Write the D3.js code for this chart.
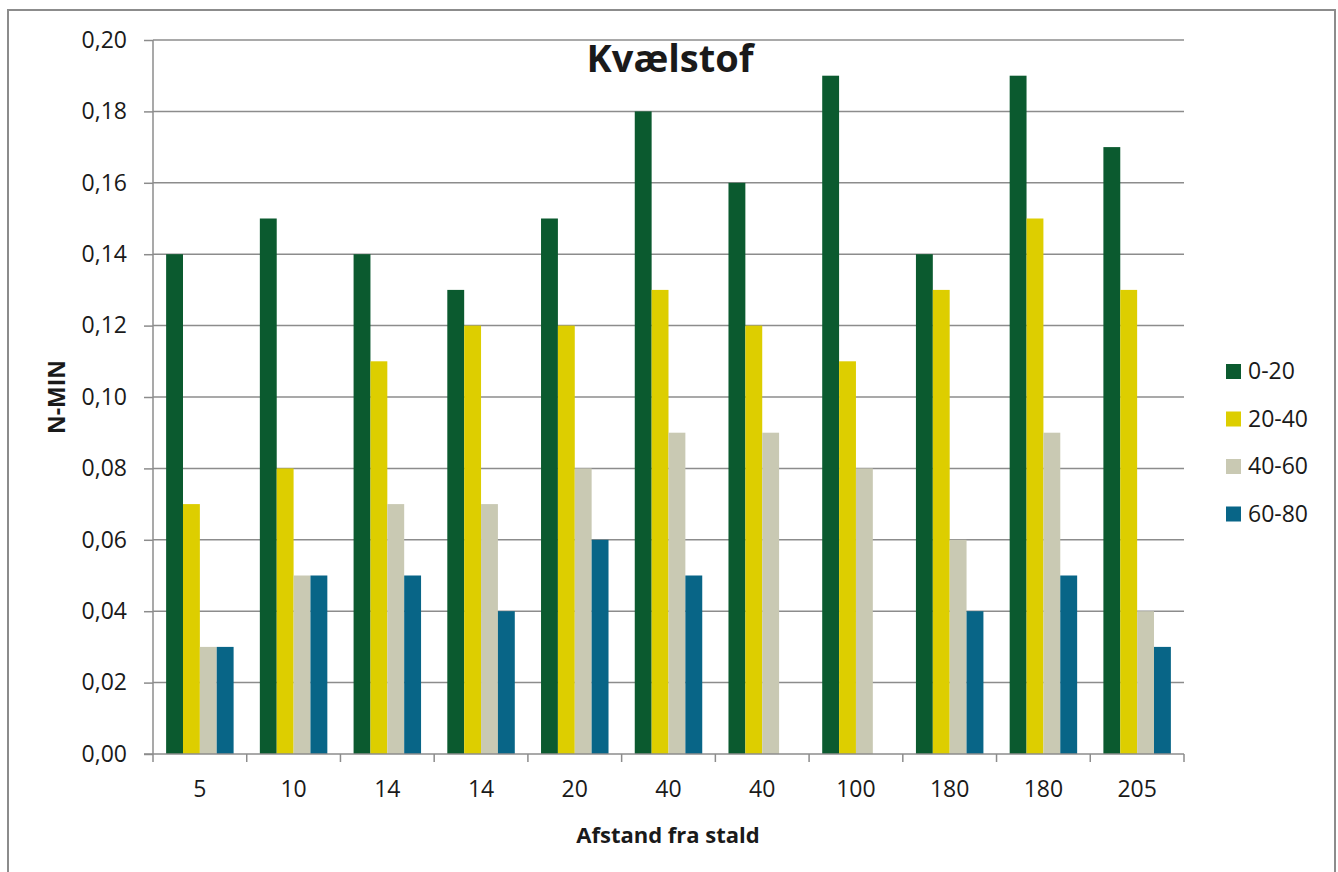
<!DOCTYPE html>
<html>
<head>
<meta charset="utf-8">
<script src="https://cdn.jsdelivr.net/npm/d3@7"></script>
<style>
  html, body { margin: 0; padding: 0; background: #fff; }
  svg { display: block; font-family: "Open Sans", Lato, sans-serif; }
</style>
</head>
<body>
<svg id="chart" width="1338" height="872"></svg>
<script>
// Distance from the stable (category labels; some repeat)
const categories = ["5", "10", "14", "14", "20", "40", "40", "100", "180", "180", "205"];
// Soil depth layers (cm)
const seriesNames = ["0-20", "20-40", "40-60", "60-80"];
// N-MIN per depth layer, one value per category (null = no measurement)
const depth0_20  = [0.14, 0.15, 0.14, 0.13, 0.15, 0.18, 0.16, 0.19, 0.14, 0.19, 0.17];
const depth20_40 = [0.07, 0.08, 0.11, 0.12, 0.12, 0.13, 0.12, 0.11, 0.13, 0.15, 0.13];
const depth40_60 = [0.03, 0.05, 0.07, 0.07, 0.08, 0.09, 0.09, 0.08, 0.06, 0.09, 0.04];
const depth60_80 = [0.03, 0.05, 0.05, 0.04, 0.06, 0.05, null, null, 0.04, 0.05, 0.03];
const yTicks = [0, 0.02, 0.04, 0.06, 0.08, 0.10, 0.12, 0.14, 0.16, 0.18, 0.20];
const colors = ["#0b5a2f", "#ddce00", "#c9c9b3", "#086587"];

const series = [depth0_20, depth20_40, depth40_60, depth60_80];

const svg = d3.select("#chart");
const plot = { left: 153, right: 1184, top: 40, bottom: 754 };
const textColor = "#1a1a1a";
const lineColor = "#8c8c8c";

// Outer chart frame
svg.append("rect")
  .attr("x", 8).attr("y", 10).attr("width", 1327).attr("height", 880)
  .attr("fill", "none").attr("stroke", lineColor).attr("stroke-width", 2);

const x = d3.scaleBand()
  .domain(categories.map((_, i) => i))
  .range([plot.left, plot.right])
  .padding(0);

const y = d3.scaleLinear().domain([0, 0.2]).range([plot.bottom, plot.top]);

const barW = x.bandwidth() * 0.18;
const groupOffset = (x.bandwidth() - barW * 4) / 2;

const fmt = v => d3.format(".2f")(v).replace(".", ",");

// Horizontal gridlines
svg.append("g")
  .selectAll("line")
  .data(yTicks.filter(t => t > 0))
  .join("line")
  .attr("x1", plot.left).attr("x2", plot.right)
  .attr("y1", d => y(d)).attr("y2", d => y(d))
  .attr("stroke", lineColor).attr("stroke-width", 1.5);

// Bars
const groups = svg.append("g");
series.forEach((vals, s) => {
  groups.append("g")
    .selectAll("rect")
    .data(vals.map((v, i) => ({ v, i })).filter(d => d.v != null))
    .join("rect")
    .attr("x", d => x(d.i) + groupOffset + s * barW)
    .attr("y", d => y(d.v))
    .attr("width", barW)
    .attr("height", d => y(0) - y(d.v))
    .attr("fill", colors[s]);
});

// Y axis
const yAxis = svg.append("g")
  .attr("transform", `translate(${plot.left},0)`)
  .call(d3.axisLeft(y).tickValues(yTicks).tickFormat(fmt).tickSize(9).tickPadding(17));
yAxis.select(".domain").attr("stroke", lineColor).attr("stroke-width", 1.5).attr("d", `M0,${plot.top}V${plot.bottom}`);
yAxis.selectAll(".tick line").attr("stroke", lineColor).attr("stroke-width", 1.5);
yAxis.selectAll(".tick text").attr("font-size", 23).attr("fill", textColor)
  .attr("font-family", "'Open Sans', Lato, sans-serif");

// X axis: ticks at category boundaries, labels centred in each band
const xAxisG = svg.append("g").attr("transform", `translate(0,${plot.bottom})`);
xAxisG.append("line")
  .attr("x1", plot.left - 9).attr("x2", plot.right)
  .attr("stroke", lineColor).attr("stroke-width", 1.5);
const bounds = categories.map((_, i) => x(i)).concat([plot.right]);
xAxisG.selectAll("line.tk")
  .data(bounds)
  .join("line").attr("class", "tk")
  .attr("x1", d => d).attr("x2", d => d)
  .attr("y1", 0).attr("y2", 8)
  .attr("stroke", lineColor).attr("stroke-width", 1.5);
xAxisG.selectAll("text")
  .data(categories)
  .join("text")
  .attr("x", (d, i) => x(i) + x.bandwidth() / 2)
  .attr("y", 43)
  .attr("text-anchor", "middle")
  .attr("font-size", 23).attr("fill", textColor)
  .text(d => d);

// Title
svg.append("text")
  .attr("x", 670).attr("y", 72)
  .attr("text-anchor", "middle")
  .attr("font-size", 38).attr("font-weight", "bold").attr("fill", textColor)
  .text("Kvælstof");

// Axis titles
svg.append("text")
  .attr("x", 668).attr("y", 843)
  .attr("text-anchor", "middle")
  .attr("font-size", 22).attr("font-weight", "bold").attr("fill", textColor)
  .text("Afstand fra stald");

svg.append("text")
  .attr("transform", "translate(65,397) rotate(-90)")
  .attr("text-anchor", "middle")
  .attr("font-size", 23).attr("font-weight", "bold").attr("fill", textColor)
  .text("N-MIN");

// Legend
const legend = svg.append("g").attr("transform", "translate(1226,364)");
const li = legend.selectAll("g")
  .data(seriesNames)
  .join("g")
  .attr("transform", (d, i) => `translate(0,${i * 47.5})`);
li.append("rect")
  .attr("width", 15).attr("height", 15)
  .attr("fill", (d, i) => colors[i]);
li.append("text")
  .attr("x", 22).attr("y", 15)
  .attr("font-size", 23).attr("fill", textColor)
  .text(d => d);
</script>
</body>
</html>
